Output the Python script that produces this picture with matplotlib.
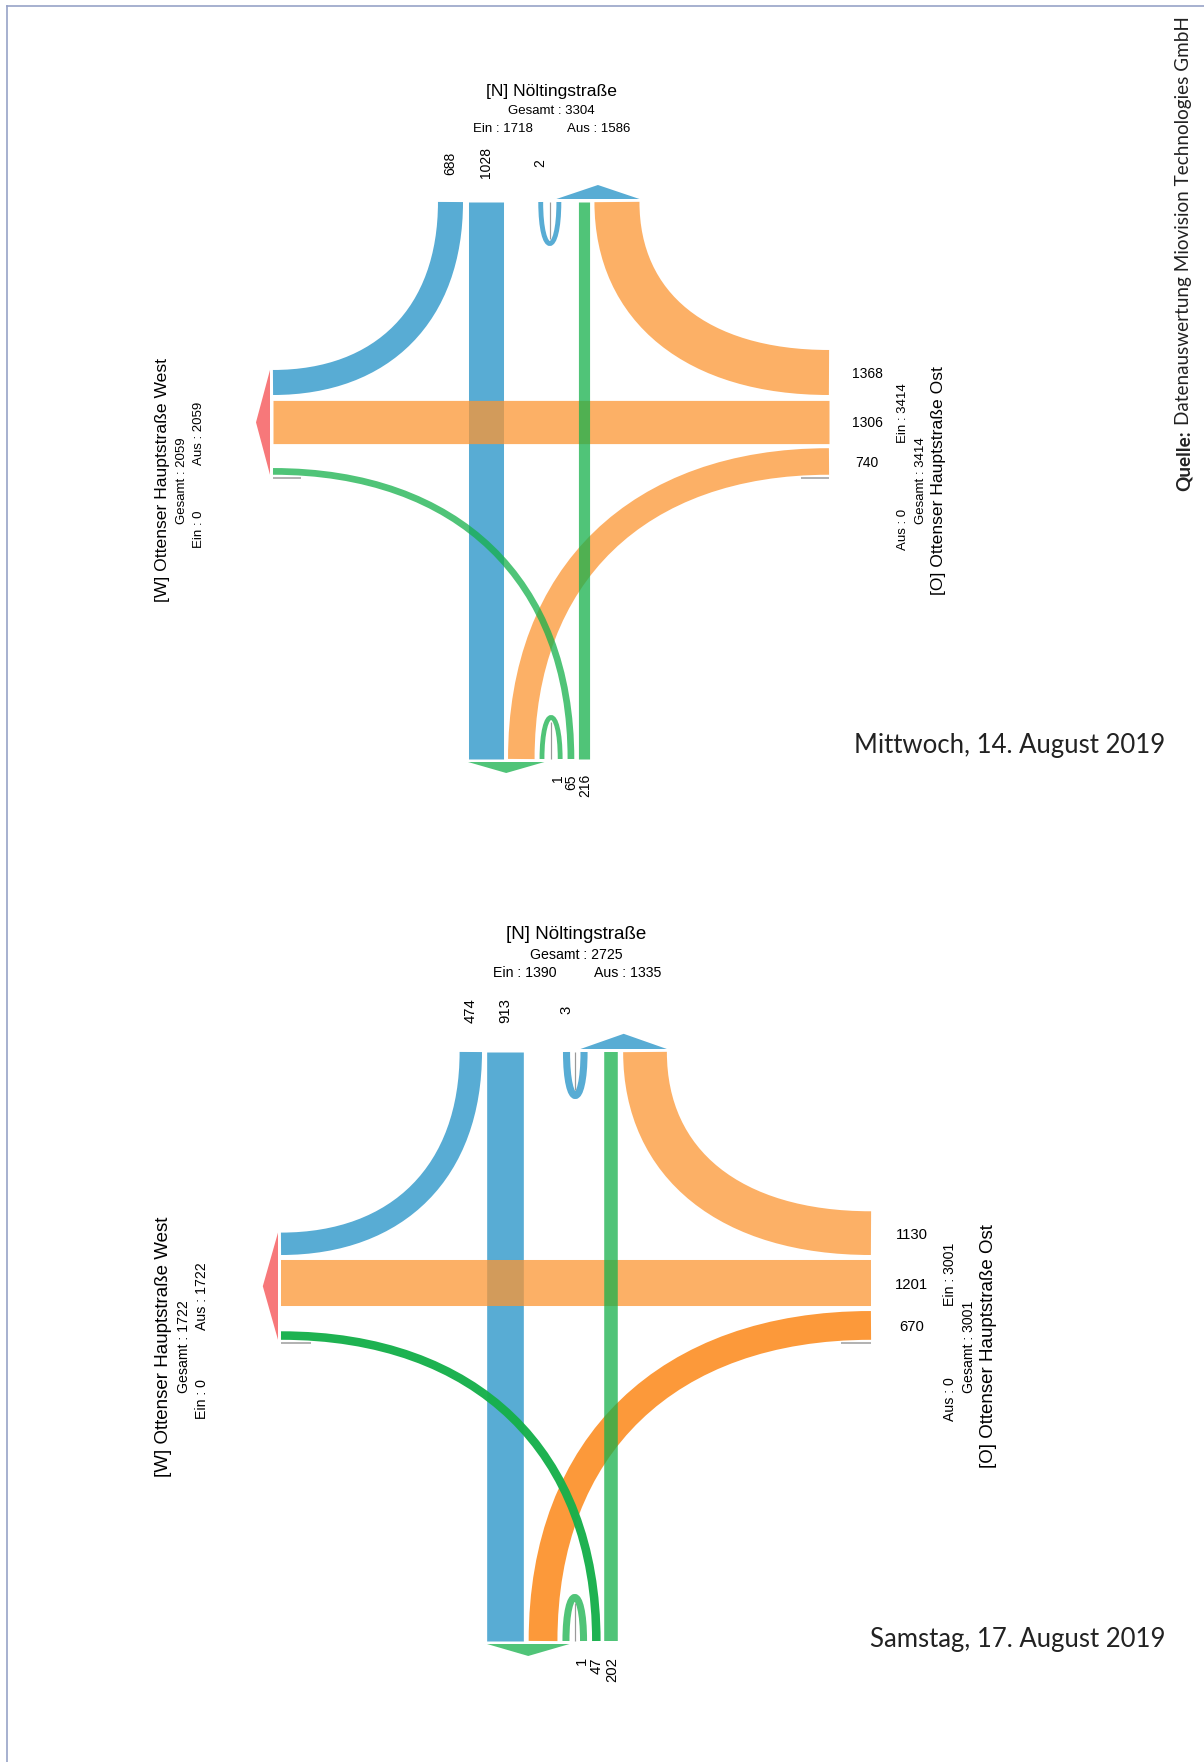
import matplotlib
matplotlib.use('Agg')
import matplotlib.pyplot as plt
from matplotlib.path import Path
from matplotlib.patches import PathPatch, Polygon

# counts per turning movement, one value per day
days = ['Mittwoch, 14. August 2019', 'Samstag, 17. August 2019']
n_to_w = [688, 474]
n_to_s = [1028, 913]
n_uturn = [2, 3]
e_to_n = [1368, 1130]
e_to_w = [1306, 1201]
e_to_s = [740, 670]
s_uturn = [1, 1]
s_to_w = [65, 47]
s_to_n = [216, 202]

arm_n = '[N] Nöltingstraße'
arm_w = '[W] Ottenser Hauptstraße West'
arm_e = '[O] Ottenser Hauptstraße Ost'
source = 'Datenauswertung Miovision Technologies GmbH'

# layout in pixels
DPI = 100
W, H = 1204, 1762
x_west = [273, 281]
x_east = [829, 871]
y_north = [202, 1052]
y_south = [759, 1641]
x_ns = [468, 487]
y_ew = [400, 1260]
scale = [1.0, 1.07]
w_base = [4.8, 7.0]
w_per_veh = [0.0294, 0.0325]
date_y = [745, 1639]
highlight = [False, True]

BLUE = '#2090c6'
ORANGE = '#fc9633'
GREEN = '#16b04b'
RED = '#f7787a'
GREY = '#9a9a9a'
ALPHA = 0.75
GAP = 5
K = 0.62
FONT = 'Liberation Sans'

fig = plt.figure(figsize=(W / DPI, H / DPI), dpi=DPI)
ax = fig.add_axes([0, 0, 1, 1])
ax.set_xlim(0, W)
ax.set_ylim(H, 0)
ax.axis('off')


def px(w):
    return w * 72.0 / DPI


def stroke(verts, codes, w, color, alpha, z):
    ax.add_patch(PathPatch(Path(verts, codes), fill=False, lw=px(w), ec=color,
                           alpha=alpha, capstyle='butt', joinstyle='round', zorder=z))


def line(p0, p1, w, color, alpha, z):
    stroke([p0, p1], [Path.MOVETO, Path.LINETO], w, color, alpha, z)


def turn(p0, p3, corner, w, color, alpha, z):
    p1 = (p0[0] + K * (corner[0] - p0[0]), p0[1] + K * (corner[1] - p0[1]))
    p2 = (p3[0] + K * (corner[0] - p3[0]), p3[1] + K * (corner[1] - p3[1]))
    stroke([p0, p1, p2, p3], [Path.MOVETO] + [Path.CURVE4] * 3, w, color, alpha, z)


def uturn(x_left, y0, w, sign, s, color, alpha, z):
    outer = 23 * s
    depth = 44 * s
    xl = x_left + w / 2
    xr = x_left + outer - w / 2
    d = (depth - w / 2) / 0.75
    stroke([(xl, y0), (xl, y0 + sign * d), (xr, y0 + sign * d), (xr, y0)],
           [Path.MOVETO] + [Path.CURVE4] * 3, w, color, alpha, z)
    xm = x_left + outer / 2
    line((xm, y0), (xm, y0 + sign * (depth - w - 2)), 1.2, GREY, 1, z)


for i in range(2):
    s = scale[i]
    xw, xe, yn, ys = x_west[i], x_east[i], y_north[i], y_south[i]
    cx, cy = (xw + xe) / 2, (yn + ys) / 2
    lw = lambda v: w_base[i] + w_per_veh[i] * v
    hl = 0.97 if highlight[i] else ALPHA

    # widths
    w_nw, w_ns, w_nu = lw(n_to_w[i]), lw(n_to_s[i]), lw(n_uturn[i])
    w_en, w_ew, w_es = lw(e_to_n[i]), lw(e_to_w[i]), lw(e_to_s[i])
    w_su, w_sw, w_sn = lw(s_uturn[i]), lw(s_to_w[i]), lw(s_to_n[i])
    u_out = 23 * s

    # lane stacks
    ns0 = x_ns[i]
    es_x0 = ns0 + w_ns + GAP
    su_x0 = es_x0 + w_es + GAP
    sw_x0 = su_x0 + u_out + GAP
    sn_x0 = sw_x0 + w_sw + 4
    nw_x0 = ns0 - GAP - w_nw
    nu_x0 = sn_x0 - 17 - u_out
    en_x0 = sn_x0 + w_sn + GAP

    ew_y0 = y_ew[i]
    en_y0 = ew_y0 - GAP - w_en
    es_y0 = ew_y0 + w_ew + GAP
    nw_y0 = ew_y0 - GAP - w_nw
    sw_y0 = es_y0 + w_es - w_sw
    stack_bot = es_y0 + w_es

    # from north (blue)
    line((ns0 + w_ns / 2, yn), (ns0 + w_ns / 2, ys), w_ns, BLUE, ALPHA, 2)
    turn((nw_x0 + w_nw / 2, yn), (xw, nw_y0 + w_nw / 2),
         (nw_x0 + w_nw / 2, nw_y0 + w_nw / 2), w_nw, BLUE, ALPHA, 2)
    uturn(nu_x0, yn, w_nu, 1, s, BLUE, ALPHA, 2)

    # from east (orange)
    line((xe, ew_y0 + w_ew / 2), (xw, ew_y0 + w_ew / 2), w_ew, ORANGE, ALPHA, 3)
    turn((xe, en_y0 + w_en / 2), (en_x0 + w_en / 2, yn),
         (en_x0 + w_en / 2, en_y0 + w_en / 2), w_en, ORANGE, ALPHA, 3)
    turn((xe, es_y0 + w_es / 2), (es_x0 + w_es / 2, ys),
         (es_x0 + w_es / 2, es_y0 + w_es / 2), w_es, ORANGE, hl, 3)

    # from south (green)
    line((sn_x0 + w_sn / 2, ys), (sn_x0 + w_sn / 2, yn), w_sn, GREEN, ALPHA, 4)
    turn((sw_x0 + w_sw / 2, ys), (xw, sw_y0 + w_sw / 2),
         (sw_x0 + w_sw / 2, sw_y0 + w_sw / 2), w_sw, GREEN, hl, 4)
    uturn(su_x0, ys, w_su, -1, s, GREEN, ALPHA, 4)

    # empty movements: thin grey placeholders
    line((xw, stack_bot + 3), (xw + 28 * s, stack_bot + 3), 1.5, GREY, 1, 2)
    line((xe - 28 * s, stack_bot + 3), (xe, stack_bot + 3), 1.5, GREY, 1, 2)

    # outbound arrows
    ax.add_patch(Polygon([(nu_x0 + u_out - w_nu, yn - 3), (en_x0 + w_en, yn - 3),
                          ((nu_x0 + u_out - w_nu + en_x0 + w_en) / 2, yn - 17 * s)],
                         closed=True, fc=BLUE, ec='none', alpha=ALPHA, zorder=5))
    ax.add_patch(Polygon([(ns0, ys + 3), (su_x0 + w_su, ys + 3),
                          ((ns0 + su_x0 + w_su) / 2, ys + 14 * s)],
                         closed=True, fc=GREEN, ec='none', alpha=ALPHA, zorder=5))
    ax.add_patch(Polygon([(xw - 3, nw_y0), (xw - 3, stack_bot),
                          (xw - 17 * s, (nw_y0 + stack_bot) / 2)],
                         closed=True, fc=RED, ec='none', zorder=5))

    # lane labels
    fs = 9.5 * s
    lfs = 10 * s
    for x, v in [(nw_x0 + w_nw / 2, n_to_w[i]), (ns0 + w_ns / 2, n_to_s[i]),
                 (nu_x0 + w_nu / 2, n_uturn[i])]:
        ax.text(x, yn - 39 * s, str(v), rotation=90, ha='center', va='center',
                fontsize=lfs, family=FONT, zorder=6)
    for x, v in [(su_x0 + u_out - w_su / 2 - 2, s_uturn[i]), (sw_x0 + w_sw / 2, s_to_w[i]),
                 (sn_x0 + w_sn / 2 + 1, s_to_n[i])]:
        ax.text(x, ys + 15 * s, str(v), rotation=90, ha='center', va='top',
                fontsize=lfs, family=FONT, zorder=6)
    for y, v in [(en_y0 + w_en / 2, e_to_n[i]), (ew_y0 + w_ew / 2, e_to_w[i]),
                 (es_y0 + w_es / 2, e_to_s[i])]:
        ax.text(xe + 38 * s, y, str(v), ha='center', va='center_baseline',
                fontsize=lfs, family=FONT, zorder=6)

    # arm summaries
    n_in = n_to_w[i] + n_to_s[i] + n_uturn[i]
    n_out = s_to_n[i] + e_to_n[i] + n_uturn[i]
    w_out = n_to_w[i] + e_to_w[i] + s_to_w[i]
    e_in = e_to_n[i] + e_to_w[i] + e_to_s[i]
    tfs = 12.6 * s

    ax.text(cx, yn - 112 * s, arm_n, ha='center', va='center_baseline',
            fontsize=tfs, family=FONT)
    ax.text(cx, yn - 92 * s, 'Gesamt : %d' % (n_in + n_out), ha='center',
            va='center_baseline', fontsize=fs, family=FONT)
    ax.text(cx - 48 * s, yn - 75 * s, 'Ein : %d' % n_in, ha='center',
            va='center_baseline', fontsize=fs, family=FONT)
    ax.text(cx + 48 * s, yn - 75 * s, 'Aus : %d' % n_out, ha='center',
            va='center_baseline', fontsize=fs, family=FONT)

    ax.text(xw - 110 * s, cy, arm_w, rotation=90, ha='center', va='center',
            fontsize=tfs, family=FONT)
    ax.text(xw - 91 * s, cy, 'Gesamt : %d' % w_out, rotation=90, ha='center',
            va='center', fontsize=fs, family=FONT)
    ax.text(xw - 74 * s, cy + 49 * s, 'Ein : 0', rotation=90, ha='center',
            va='center', fontsize=fs, family=FONT)
    ax.text(xw - 74 * s, cy - 47 * s, 'Aus : %d' % w_out, rotation=90, ha='center',
            va='center', fontsize=fs, family=FONT)

    ax.text(xe + 110 * s, cy, arm_e, rotation=90, ha='center', va='center',
            fontsize=tfs, family=FONT)
    ax.text(xe + 92 * s, cy, 'Gesamt : %d' % e_in, rotation=90, ha='center',
            va='center', fontsize=fs, family=FONT)
    ax.text(xe + 74 * s, cy - 67 * s, 'Ein : %d' % e_in, rotation=90, ha='center',
            va='center', fontsize=fs, family=FONT)
    ax.text(xe + 74 * s, cy + 49 * s, 'Aus : 0', rotation=90, ha='center',
            va='center', fontsize=fs, family=FONT)

    ax.text(1165, date_y[i], days[i], ha='right', va='center', fontsize=18.5,
            family='Lato', color='#222222')

# page frame
ax.plot([7, W], [6, 6], color='#97a3c7', lw=1.2)
ax.plot([7, 7], [6, H], color='#97a3c7', lw=1.2)

# source note, bold prefix then regular text
q = ax.text(1184, 491, 'Quelle:', rotation=90, ha='center', va='bottom',
            fontsize=13.6, family='Lato', fontweight='bold', color='#222222')
r = fig.canvas.get_renderer()
bb = q.get_window_extent(renderer=r)
ax.text(1184, H - bb.y1 - 5, source, rotation=90, ha='center', va='bottom',
        fontsize=13.6, family='Lato', color='#222222')

fig.savefig('out.png', dpi=DPI)
